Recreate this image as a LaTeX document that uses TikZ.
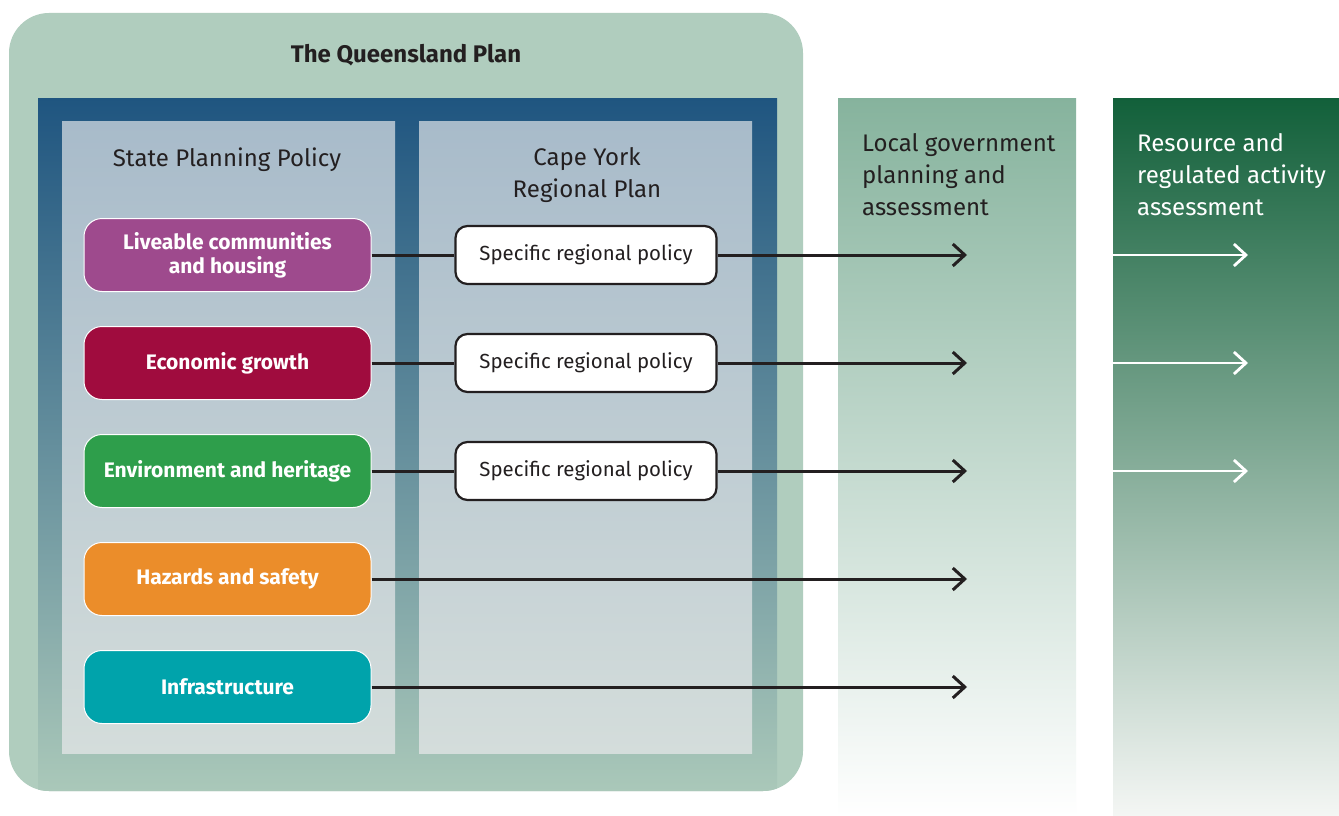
\documentclass[tikz,border=0pt]{standalone}
\usepackage{fontspec}
\setmainfont{Fira Sans}
\usetikzlibrary{arrows.meta}
\definecolor{qgreen}{HTML}{B0CDBE}
\definecolor{frametop}{HTML}{1F5580}
\definecolor{framebot}{HTML}{AAC8B9}
\definecolor{paneltop}{HTML}{A8BBCA}
\definecolor{panelbot}{HTML}{D4DDDB}
\definecolor{lgtop}{HTML}{86B39D}
\definecolor{rstop}{HTML}{12603A}
\definecolor{rsbot}{HTML}{F4F6F4}
\definecolor{cpurple}{HTML}{9E4A8D}
\definecolor{ccrimson}{HTML}{A00C3E}
\definecolor{cgreen}{HTML}{2E9E4B}
\definecolor{corange}{HTML}{EB8D2A}
\definecolor{cteal}{HTML}{00A3AB}
\definecolor{ink}{HTML}{231F20}
\tikzset{
  policy/.style={draw=white, line width=1pt, rounded corners=18pt,
    minimum width=287pt, minimum height=73pt, text=white, align=center,
    font=\fontsize{21}{24}\selectfont\bfseries, inner sep=0pt},
  srp/.style={draw=ink, fill=white, line width=2.2pt, rounded corners=12pt,
    minimum width=261pt, minimum height=58pt, text=ink,
    font=\fontsize{20.4}{24}\selectfont, inner sep=0pt},
  conn/.style={draw=ink, line width=3pt},
  arr/.style={conn, -{Straight Barb[length=12pt,width=22pt,line width=3pt]}},
  warr/.style={draw=white, line width=2.8pt, -{Straight Barb[length=12pt,width=22pt,line width=2.8pt]}},
  head/.style={text=ink, font=\fontsize{24}{32}\selectfont, align=center, inner sep=0pt},
  colhead/.style={font=\fontsize{24}{32}\selectfont, align=left, inner sep=0pt, anchor=base west},
}
\begin{document}
\begin{tikzpicture}[x=1pt,y=-1pt]
\useasboundingbox (0,0) rectangle (1339,816);
\fill[white] (0,0) rectangle (1339,816);
% right-hand columns
\shade[top color=lgtop, bottom color=white] (838,98) rectangle (1076,816);
\shade[top color=rstop, bottom color=rsbot] (1113,98) rectangle (1339,816);
% outer plan box
\fill[qgreen, rounded corners=40pt] (9,13) rectangle (803,791);
\begin{scope}
  \clip[rounded corners=40pt] (9,13) rectangle (803,791);
  \shade[top color=frametop, bottom color=framebot] (38,98) rectangle (777,791);
\end{scope}
\shade[top color=paneltop, bottom color=panelbot] (62,121) rectangle (395,753);
\shade[top color=paneltop, bottom color=panelbot] (419,121) rectangle (752,753);
% headings
\node[head, anchor=base] (title) at (406,63) {\bfseries The Queensland Plan};
\node[head, anchor=base] (spp) at (227,166) {State Planning Policy};
\node[head, anchor=base] (cyrp) at (587,197) {Cape York\\Regional Plan};
\node[colhead, text=ink] (lgh) at (862,215) {Local government\\planning and\\assessment};
\node[colhead, text=white] (rsh) at (1137,215) {Resource and\\regulated activity\\assessment};
% policy boxes
\node[policy, fill=cpurple] (p1) at (227.5,255) {Liveable communities\\and housing};
\node[policy, fill=ccrimson] (p2) at (227.5,363) {Economic growth};
\node[policy, fill=cgreen] (p3) at (227.5,471) {Environment and heritage};
\node[policy, fill=corange] (p4) at (227.5,579) {Hazards and safety};
\node[policy, fill=cteal] (p5) at (227.5,687) {Infrastructure};
% specific regional policy boxes
\node[srp] (s1) at (586,255) {Specific regional policy};
\node[srp] (s2) at (586,363) {Specific regional policy};
\node[srp] (s3) at (586,471) {Specific regional policy};
% arrow ends
\coordinate (l1) at (967,255);
\coordinate (l2) at (967,363);
\coordinate (l3) at (967,471);
\coordinate (l4) at (967,579);
\coordinate (l5) at (967,687);
\coordinate (ra1) at (1113,255);
\coordinate (ra2) at (1113,363);
\coordinate (ra3) at (1113,471);
\coordinate (rb1) at (1248,255);
\coordinate (rb2) at (1248,363);
\coordinate (rb3) at (1248,471);
% connectors
\draw[conn] (p1.east) -- (s1.west);
\draw[conn] (p2.east) -- (s2.west);
\draw[conn] (p3.east) -- (s3.west);
\draw[arr] (s1.east) -- (l1);
\draw[arr] (s2.east) -- (l2);
\draw[arr] (s3.east) -- (l3);
\draw[arr] (p4.east) -- (l4);
\draw[arr] (p5.east) -- (l5);
\draw[warr] (ra1) -- (rb1);
\draw[warr] (ra2) -- (rb2);
\draw[warr] (ra3) -- (rb3);
\end{tikzpicture}
\end{document}
